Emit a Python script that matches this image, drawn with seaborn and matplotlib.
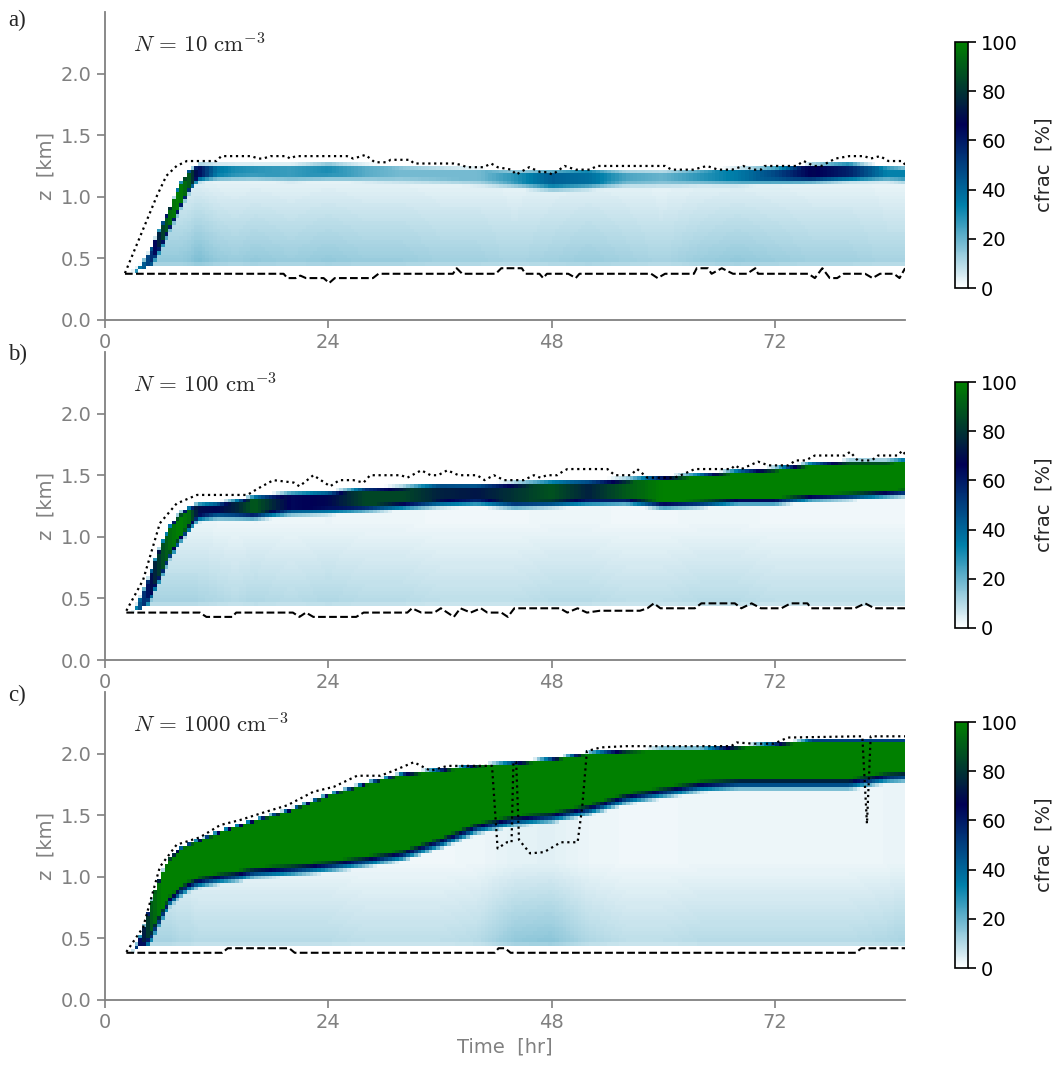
import numpy as np
import matplotlib
matplotlib.use("Agg")
import matplotlib.pyplot as plt
import seaborn as sns

# ---------------- data ----------------
# knot times [hr] for the cloud-fraction field
t_knots = [2, 3, 4, 5, 6, 7, 8, 9, 10, 12, 14, 16, 20, 24, 28, 32, 36, 40,
           44, 48, 52, 56, 60, 64, 68, 72, 76, 80, 84, 86]

# N = 10 cm-3
top_a = [0.38, 0.40, 0.47, 0.60, 0.77, 0.93, 1.10, 1.22, 1.27, 1.27, 1.27, 1.27, 1.27, 1.28, 1.27,
         1.26, 1.25, 1.24, 1.22, 1.22, 1.23, 1.22, 1.22, 1.23, 1.24, 1.25, 1.27, 1.28, 1.26, 1.25]
lo_a = [0.38, 0.38, 0.40, 0.47, 0.62, 0.78, 0.93, 1.08, 1.17, 1.18, 1.18, 1.18, 1.17, 1.18, 1.17,
        1.16, 1.15, 1.14, 1.12, 1.10, 1.11, 1.13, 1.13, 1.14, 1.14, 1.15, 1.16, 1.17, 1.17, 1.16]
core_a = [0, 20, 40, 55, 80, 95, 100, 90, 65, 36, 30, 28, 26, 30, 22,
          18, 18, 18, 28, 42, 38, 24, 20, 28, 35, 48, 68, 58, 33, 33]
bg_a = [0, 15, 15, 15, 15, 15, 15, 16, 18, 15, 14, 15, 14, 15, 14,
        14, 13, 13, 12, 13, 14, 13, 12, 14, 15, 14, 13, 13, 12, 12]

# N = 100 cm-3
top_b = [0.38, 0.40, 0.55, 0.75, 0.95, 1.10, 1.20, 1.25, 1.28, 1.29, 1.31, 1.34, 1.37, 1.38, 1.41,
         1.42, 1.44, 1.44, 1.45, 1.46, 1.47, 1.48, 1.50, 1.52, 1.55, 1.57, 1.61, 1.63, 1.63, 1.64]
lo_b = [0.38, 0.38, 0.42, 0.55, 0.72, 0.88, 1.00, 1.10, 1.18, 1.20, 1.20, 1.20, 1.23, 1.24, 1.26,
        1.28, 1.30, 1.31, 1.29, 1.30, 1.31, 1.32, 1.29, 1.30, 1.32, 1.32, 1.35, 1.36, 1.38, 1.39]
core_b = [0, 30, 50, 70, 85, 95, 100, 95, 70, 68, 75, 90, 65, 68, 85,
          85, 75, 72, 80, 88, 75, 90, 100, 100, 100, 100, 100, 100, 100, 100]
bg_b = [0, 12, 12, 12, 12, 12, 12, 12, 12, 11, 10, 11, 10, 11, 10,
        10, 9, 9, 9, 10, 10, 9, 9, 10, 10, 9, 9, 9, 9, 9]

# N = 1000 cm-3
top_c = [0.38, 0.40, 0.56, 0.82, 1.03, 1.17, 1.24, 1.28, 1.31, 1.37, 1.42, 1.47, 1.56, 1.68, 1.77,
         1.85, 1.88, 1.92, 1.94, 1.97, 2.02, 2.04, 2.05, 2.05, 2.07, 2.09, 2.12, 2.12, 2.12, 2.12]
lo_c = [0.38, 0.39, 0.45, 0.56, 0.72, 0.85, 0.92, 0.97, 1.00, 1.03, 1.05, 1.08, 1.10, 1.13, 1.17,
        1.22, 1.32, 1.44, 1.50, 1.53, 1.59, 1.68, 1.73, 1.78, 1.80, 1.80, 1.80, 1.80, 1.85, 1.86]
core_c = [0, 40, 70, 90, 100, 100, 100, 100, 100, 100, 100, 100, 100, 100, 100,
          100, 100, 100, 100, 100, 100, 100, 100, 100, 100, 100, 100, 100, 100, 100]
bg_c = [0, 12, 12, 12, 12, 12, 11, 11, 10, 10, 10, 10, 10, 10, 9,
        9, 9, 10, 15, 16, 11, 9, 9, 10, 10, 10, 10, 10, 11, 12]

# dotted line (cloud top) and dashed line (cloud base)
dot_t_a = [2.15, 5.6, 6.6, 7.7, 8.8, 12.0, 12.5, 15.7, 16.5, 17.0, 17.8, 19.5, 19.9, 20.5, 26.0,
           26.7, 28.0, 29.0, 30.3, 30.7, 32.8, 33.2, 37.5, 38.2, 38.9, 40.7, 41.5, 42.2, 43.7,
           44.2, 45.6, 46.8, 47.5, 48.1, 49.4, 50.6, 52.1, 52.9, 60.2, 60.9, 63.2, 64.7, 65.9,
           67.4, 68.6, 69.7, 70.5, 70.9, 74.3, 75.1, 76.2, 77.0, 78.5, 80.0, 81.6, 82.3, 83.3,
           84.2, 85.7, 86.0]
dot_z_a = [0.38, 1.01, 1.17, 1.25, 1.29, 1.29, 1.33, 1.33, 1.31, 1.31, 1.33, 1.33, 1.31, 1.33, 1.33,
           1.31, 1.34, 1.28, 1.28, 1.30, 1.30, 1.27, 1.27, 1.26, 1.24, 1.24, 1.27, 1.24, 1.22,
           1.18, 1.24, 1.20, 1.20, 1.18, 1.25, 1.22, 1.22, 1.25, 1.25, 1.22, 1.22, 1.25, 1.22,
           1.22, 1.25, 1.22, 1.22, 1.25, 1.25, 1.29, 1.25, 1.25, 1.31, 1.33, 1.33, 1.31, 1.33,
           1.29, 1.29, 1.26]
dash_t_a = [2.15, 19.2, 19.6, 20.5, 21.0, 21.6, 23.5, 24.1, 24.7, 28.8, 29.4, 37.4, 37.8, 38.4,
            42.0, 42.6, 44.8, 45.2, 46.7, 47.1, 47.5, 49.8, 50.6, 51.0, 58.7, 59.4, 60.2, 63.3,
            63.6, 64.8, 65.2, 66.3, 67.5, 69.0, 69.9, 70.2, 75.6, 76.3, 77.1, 77.9, 78.7, 79.4,
            81.7, 82.5, 83.3, 84.8, 85.4, 86.0]
dash_z_a = [0.375, 0.375, 0.34, 0.34, 0.36, 0.34, 0.34, 0.30, 0.34, 0.34, 0.375, 0.375, 0.42, 0.375,
            0.375, 0.42, 0.42, 0.375, 0.375, 0.34, 0.375, 0.375, 0.34, 0.375, 0.375, 0.34, 0.375, 0.375,
            0.42, 0.42, 0.375, 0.42, 0.375, 0.375, 0.42, 0.375, 0.375, 0.34, 0.42, 0.34, 0.34, 0.375,
            0.375, 0.34, 0.375, 0.375, 0.34, 0.42]

dot_t_b = [2.3, 4.1, 5.9, 7.7, 9.9, 15.3, 16.4, 18.1, 20.3, 20.9, 22.4, 24.2, 25.2, 26.7, 27.8,
           28.5, 31.8, 32.5, 34.0, 35.0, 35.8, 36.8, 38.0, 40.0, 40.8, 41.8, 42.9, 45.0, 46.1,
           46.8, 47.5, 48.6, 49.2, 49.7, 54.0, 54.8, 56.5, 57.2, 58.3, 61.2, 61.9, 63.4, 67.3,
           67.7, 68.4, 70.2, 71.3, 73.5, 74.2, 75.3, 76.3, 79.5, 80.1, 80.9, 82.4, 83.1, 85.2,
           85.7, 86.0]
dot_z_b = [0.40, 0.65, 1.11, 1.27, 1.34, 1.34, 1.39, 1.46, 1.44, 1.41, 1.50, 1.41, 1.46, 1.46, 1.44,
           1.50, 1.50, 1.48, 1.54, 1.50, 1.50, 1.54, 1.50, 1.50, 1.46, 1.50, 1.46, 1.46, 1.50,
           1.48, 1.50, 1.50, 1.53, 1.55, 1.55, 1.50, 1.50, 1.55, 1.48, 1.48, 1.50, 1.55, 1.55,
           1.58, 1.55, 1.61, 1.58, 1.58, 1.62, 1.62, 1.66, 1.66, 1.69, 1.62, 1.62, 1.66, 1.66,
           1.70, 1.67]
dash_t_b = [2.3, 10.2, 10.9, 13.7, 14.1, 20.2, 20.9, 21.6, 22.4, 27.0, 27.8, 32.5, 33.0, 34.0,
            35.4, 36.1, 36.8, 37.5, 38.2, 39.3, 40.4, 41.1, 42.6, 43.3, 44.0, 48.9, 49.7, 50.8,
            51.8, 53.2, 57.5, 58.3, 59.0, 59.7, 63.4, 64.1, 67.7, 68.4, 69.5, 70.5, 72.7, 73.7,
            75.5, 75.9, 80.6, 81.7, 82.7, 86.0]
dash_z_b = [0.385, 0.385, 0.35, 0.35, 0.385, 0.385, 0.35, 0.385, 0.35, 0.35, 0.385, 0.385, 0.42, 0.385,
            0.385, 0.42, 0.385, 0.35, 0.42, 0.385, 0.42, 0.385, 0.385, 0.35, 0.42, 0.42, 0.385, 0.42,
            0.385, 0.40, 0.40, 0.42, 0.46, 0.42, 0.42, 0.46, 0.46, 0.42, 0.46, 0.42, 0.42, 0.46,
            0.46, 0.42, 0.42, 0.46, 0.42, 0.42]

dot_t_c = [2.3, 4.1, 5.9, 7.7, 10.2, 12.4, 14.5, 17.4, 19.6, 22.4, 24.6, 27.1, 29.6, 31.0, 33.2,
           35.0, 36.8, 41.1, 41.6, 42.2, 43.2, 43.7, 43.9, 44.2, 44.5, 45.7, 47.2, 49.0, 50.8,
           51.3, 51.8, 53.3, 56.0, 67.3, 67.9, 69.7, 71.9, 73.4, 81.0, 81.4, 81.9, 82.3, 82.5, 86.0]
dot_z_c = [0.39, 0.59, 1.08, 1.26, 1.32, 1.42, 1.46, 1.53, 1.58, 1.69, 1.73, 1.82, 1.82, 1.86, 1.93,
           1.86, 1.90, 1.90, 1.90, 1.23, 1.28, 1.28, 1.93, 1.93, 1.30, 1.19, 1.20, 1.28, 1.28,
           1.57, 2.02, 2.05, 2.06, 2.06, 2.09, 2.08, 2.08, 2.13, 2.14, 2.14, 1.43, 2.14, 2.14, 2.14]
dash_t_c = [2.3, 12.6, 13.2, 19.8, 20.4, 41.9, 42.3, 43.0, 43.6, 80.7, 81.3, 86.0]
dash_z_c = [0.383, 0.383, 0.42, 0.42, 0.383, 0.383, 0.42, 0.42, 0.383, 0.383, 0.42, 0.42]

n_labels = [r"$N\,=\,10\ \mathrm{cm}^{-3}$", r"$N\,=\,100\ \mathrm{cm}^{-3}$",
            r"$N\,=\,1000\ \mathrm{cm}^{-3}$"]
panel_labels = ["a)", "b)", "c)"]
x_ticks = [0, 24, 48, 72]
y_ticks = [0.0, 0.5, 1.0, 1.5, 2.0]
cbar_ticks = [0, 20, 40, 60, 80, 100]

# ---------------- field construction ----------------
t_edges = np.arange(2.0, 86.01, 0.4)
z_edges = np.arange(0.35, 2.26, 0.03)
t_mid = 0.5 * (t_edges[1:] + t_edges[:-1])
z_mid = 0.5 * (z_edges[1:] + z_edges[:-1])


def build_field(top, lo, core, bg, gap, w):
    T = np.interp(t_mid, t_knots, top)[None, :]
    L = np.interp(t_mid, t_knots, lo)[None, :]
    C = np.interp(t_mid, t_knots, core)[None, :]
    B = np.interp(t_mid, t_knots, bg)[None, :]
    Z = z_mid[:, None]
    hi = T - gap
    bot = np.minimum(0.44, L)
    # lower layer fades upward and at its very bottom
    base = B * np.clip(1 - (Z - bot) / 0.9, 0.25, 1) * np.clip(0.55 + (Z - bot) / 0.06, 0, 1)
    s = np.where(Z < L, np.clip(1 - (L - Z) / w, 0, 1), 1.0)
    val = base + (C - base) * s
    val = np.where(Z > hi, C * np.clip((T - Z) / gap, 0, 1), val)
    val = np.where((Z < bot) | (Z > T), 0, val)
    return np.ma.masked_less_equal(val, 0.5)


fields = [build_field(top_a, lo_a, core_a, bg_a, 0.03, 0.06),
          build_field(top_b, lo_b, core_b, bg_b, 0.04, 0.07),
          build_field(top_c, lo_c, core_c, bg_c, 0.03, 0.10)]
dotted = [(dot_t_a, dot_z_a), (dot_t_b, dot_z_b), (dot_t_c, dot_z_c)]
dashed = [(dash_t_a, dash_z_a), (dash_t_b, dash_z_b), (dash_t_c, dash_z_c)]

# ---------------- plotting ----------------
sns.set_style("ticks")
plt.rcParams["mathtext.fontset"] = "cm"
plt.rcParams["font.family"] = ["DejaVu Sans"]

fig = plt.figure(figsize=(10.57, 10.68), dpi=100)
ax_bottoms = [0.7004, 0.3820, 0.0637]
cb_bottoms = [0.7303, 0.4120, 0.0936]
label_y = [0.981, 0.668, 0.349]
gray = "#808080"

for i in range(3):
    ax = fig.add_axes([0.0993, ax_bottoms[i], 0.757, 0.2884])
    mesh = ax.pcolormesh(t_edges, z_edges, fields[i], cmap="ocean_r", vmin=0, vmax=100,
                         shading="flat", rasterized=True)
    sns.lineplot(x=dotted[i][0], y=dotted[i][1], ax=ax, color="k", linestyle=":",
                 linewidth=1.6, sort=False, estimator=None)
    sns.lineplot(x=dashed[i][0], y=dashed[i][1], ax=ax, color="k", linestyle="--",
                 linewidth=1.5, sort=False, estimator=None)

    ax.set_xlim(0, 86)
    ax.set_ylim(0, 2.5)
    ax.set_xticks(x_ticks)
    ax.set_yticks(y_ticks)
    ax.set_yticklabels(["%.1f" % v for v in y_ticks])
    for side in ["top", "right"]:
        ax.spines[side].set_visible(False)
    for side in ["left", "bottom"]:
        ax.spines[side].set_color(gray)
        ax.spines[side].set_linewidth(1.3)
    ax.tick_params(colors=gray, labelsize=14, length=6, width=1.2)
    ax.set_ylabel("z  [km]", color=gray, fontsize=14)
    if i == 2:
        ax.set_xlabel("Time  [hr]", color=gray, fontsize=14)
    ax.text(0.035, 0.893, n_labels[i], transform=ax.transAxes, fontsize=16.5,
            va="center", ha="left")
    fig.text(0.008, label_y[i], panel_labels[i], fontsize=16.5, va="center",
             family=["Liberation Serif", "DejaVu Serif"])

    cax = fig.add_axes([0.9035, cb_bottoms[i], 0.0123, 0.2303])
    cb = fig.colorbar(mesh, cax=cax, ticks=cbar_ticks)
    cb.outline.set_edgecolor("k")
    cb.outline.set_linewidth(1.2)
    cb.ax.tick_params(labelsize=14, length=6, width=1.2, colors="k")
    cb.set_label("cfrac  [%]", fontsize=14, labelpad=12)

fig.savefig("out.png", dpi=100)
